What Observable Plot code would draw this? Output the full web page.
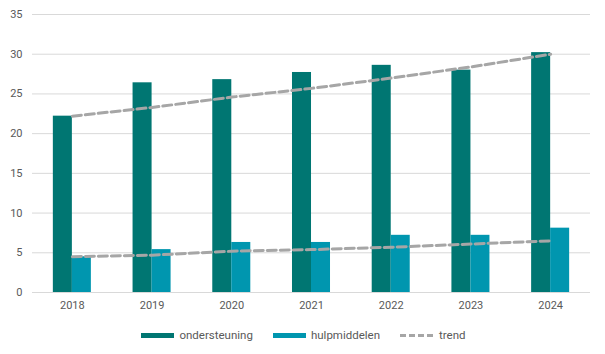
<!DOCTYPE html>
<html>
<head>
<meta charset="utf-8">
<script src="https://cdn.jsdelivr.net/npm/d3@7"></script>
<script src="https://cdn.jsdelivr.net/npm/@observablehq/plot@0.6"></script>
<style>
  html, body { margin: 0; padding: 0; background: #fff; }
  #chart { width: 605px; }
  .legend { display: flex; justify-content: center; align-items: center; height: 30px;
    font-family: Roboto, "DejaVu Sans", sans-serif; font-size: 11.5px; color: #595959; padding-left: 2px; }
  .item { display: flex; align-items: center; margin: 0 10px; }
  .sw { width: 33px; height: 5px; margin-right: 5px; }
  .dash { width: 33px; height: 0; border-top: 3px dashed #A6A6A6; margin-right: 6px; }
</style>
</head>
<body>
<div id="chart"></div>
<script>
const years = ["2018", "2019", "2020", "2021", "2022", "2023", "2024"];
const ondersteuning = [22.2, 26.4, 26.8, 27.7, 28.6, 28.0, 30.2];
const hulpmiddelen = [4.5, 5.4, 6.3, 6.3, 7.2, 7.2, 8.1];
const trendOndersteuning = [22.2, 23.3, 24.6, 25.7, 27.0, 28.4, 30.0];
const trendHulpmiddelen = [4.5, 4.7, 5.2, 5.4, 5.7, 6.1, 6.5];
const yTicks = [0, 5, 10, 15, 20, 25, 30, 35];
const seriesNames = ["ondersteuning", "hulpmiddelen", "trend"];
const colors = ["#007672", "#0096AF", "#A6A6A6"];

const data = years.map((y, i) => ({
  year: y,
  ond: ondersteuning[i],
  hulp: hulpmiddelen[i],
  t1: trendOndersteuning[i],
  t2: trendHulpmiddelen[i]
}));

const plot = Plot.plot({
  width: 605,
  height: 320,
  marginLeft: 32,
  marginRight: 15,
  marginTop: 14,
  marginBottom: 28,
  style: { fontFamily: "Roboto, 'DejaVu Sans', sans-serif", fontSize: "11px", color: "#595959", background: "#fff" },
  x: { domain: years, paddingInner: 0.523, paddingOuter: 0.2615, round: false, label: null, tickSize: 0, tickPadding: 9 },
  y: { domain: [0, 35], ticks: yTicks, label: null, tickSize: 0, tickPadding: 10 },
  marks: [
    Plot.gridY(yTicks, { stroke: "#d9d9d9", strokeOpacity: 1 }),
    Plot.axisY(yTicks, { tickSize: 0, tickPadding: 10, label: null, fontSize: 11 }),
    Plot.axisX({ tickSize: 0, tickPadding: 9, label: null, fontSize: 11 }),
    Plot.barY(data, { x: "year", y: "ond", fill: colors[0], insetRight: 19 }),
    Plot.barY(data, { x: "year", y: "hulp", fill: colors[1], insetLeft: 19 }),
    Plot.line(data, { x: "year", y: "t1", stroke: colors[2], strokeWidth: 3, strokeDasharray: "9,4" }),
    Plot.line(data, { x: "year", y: "t2", stroke: colors[2], strokeWidth: 3, strokeDasharray: "9,4" })
  ]
});
document.getElementById("chart").appendChild(plot);

const legend = document.createElement("div");
legend.className = "legend";
seriesNames.forEach((name, i) => {
  const item = document.createElement("div");
  item.className = "item";
  const sw = document.createElement("span");
  if (i < 2) { sw.className = "sw"; sw.style.background = colors[i]; }
  else { sw.className = "dash"; }
  const t = document.createElement("span");
  t.textContent = name;
  item.appendChild(sw);
  item.appendChild(t);
  legend.appendChild(item);
});
document.getElementById("chart").appendChild(legend);
</script>
</body>
</html>
